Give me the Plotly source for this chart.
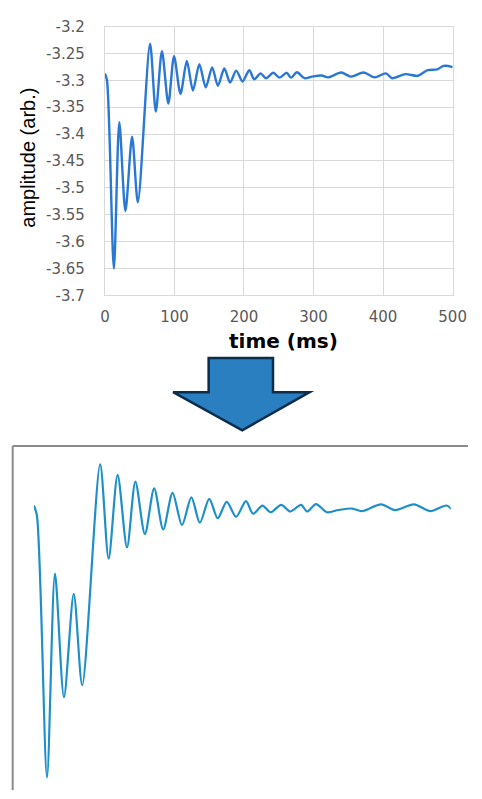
import plotly.graph_objects as go

# Damped oscillation trace: time in ms, amplitude in arbitrary units
time_ms = [0, 3, 12.9, 20.7, 29.5, 39.1, 47.4, 64.9, 73.2, 82.0, 91.2, 99.4,
           108.7, 117.8, 126.6, 135.8, 145.0, 154.2, 162.5, 171.7, 180.0, 188.8,
           198.0, 207.6, 214.6, 223.8, 231.6, 242.2, 251.0, 261.5, 267.5, 276.2,
           286.8, 298, 311.5, 321, 339.8, 353.6, 372, 388, 404, 413, 432, 450,
           464, 478, 487, 498.6, 500]
amplitude = [-3.287, -3.300, -3.650, -3.378, -3.543, -3.405, -3.527, -3.232,
             -3.358, -3.246, -3.343, -3.255, -3.325, -3.264, -3.319, -3.270,
             -3.313, -3.276, -3.310, -3.278, -3.304, -3.282, -3.302, -3.281,
             -3.298, -3.287, -3.296, -3.286, -3.295, -3.286, -3.295, -3.285,
             -3.296, -3.293, -3.291, -3.2945, -3.2855, -3.293, -3.2855, -3.2945,
             -3.287, -3.296, -3.2885, -3.2915, -3.281, -3.2795, -3.273, -3.275,
             -3.276]

x_ticks = [0, 100, 200, 300, 400, 500]
y_ticks = [-3.2, -3.25, -3.3, -3.35, -3.4, -3.45, -3.5, -3.55, -3.6, -3.65, -3.7]
y_tick_text = ["-3.2", "-3.25", "-3.3", "-3.35", "-3.4", "-3.45", "-3.5",
               "-3.55", "-3.6", "-3.65", "-3.7"]

W, H = 482, 799


def px(x):
    return x / W


def py(y):
    return 1 - y / H


fig = go.Figure()

# Upper chart with axes and grid
fig.add_trace(go.Scatter(
    x=time_ms, y=amplitude, mode="lines",
    line=dict(color="#2a78d4", width=2.4, shape="spline", smoothing=0.8),
    xaxis="x", yaxis="y", showlegend=False, hoverinfo="skip"))

# Lower chart: same trace, bare frame, wider zoom
fig.add_trace(go.Scatter(
    x=time_ms, y=amplitude, mode="lines",
    line=dict(color="#1e90c8", width=2.2, shape="spline", smoothing=0.8),
    xaxis="x2", yaxis="y2", showlegend=False, hoverinfo="skip"))

tick_font = dict(family="DejaVu Sans", size=15, color="#595959")
grid = "#d9d9d9"

# Block arrow between the two charts
arrow_pts = [(212, 357), (279, 357), (279, 392), (317, 392), (247, 431),
             (175, 392), (212, 392)]
arrow_path = "M " + " L ".join(f"{px(a):.5f},{py(b):.5f}" for a, b in arrow_pts) + " Z"

fig.update_layout(
    width=W, height=H,
    margin=dict(l=0, r=0, t=0, b=0),
    paper_bgcolor="white", plot_bgcolor="white",
    xaxis=dict(domain=[px(104), px(466)], range=[0, 500], tickvals=x_ticks,
               showgrid=True, gridcolor=grid, gridwidth=1, zeroline=False,
               showline=True, linecolor=grid, linewidth=1, mirror=True,
               ticks="", tickfont=tick_font, ticklabelstandoff=8,
               anchor="y"),
    yaxis=dict(domain=[py(293), py(18)], range=[-3.7, -3.2], tickvals=y_ticks,
               ticktext=y_tick_text, showgrid=True, gridcolor=grid, gridwidth=1,
               zeroline=False, showline=True, linecolor=grid, linewidth=1,
               mirror=True, ticks="", tickfont=tick_font, ticklabelstandoff=16,
               anchor="x"),
    xaxis2=dict(domain=[px(30), px(464)], range=[0, 408], visible=False,
                anchor="y2"),
    yaxis2=dict(domain=[0, py(447)], range=[-3.6669, -3.2074], visible=False,
                anchor="x2"),
    annotations=[
        dict(text="amplitude (arb.)", x=px(23), y=py(152), xref="paper",
             yref="paper", xanchor="center", yanchor="middle",
             showarrow=False, textangle=-90,
             font=dict(family="Liberation Sans", size=20, color="black")),
        dict(text="<b>time (ms)</b>", x=px(290), y=py(340), xref="paper",
             yref="paper", xanchor="center", yanchor="middle",
             showarrow=False,
             font=dict(family="DejaVu Sans", size=20, color="black")),
    ],
    shapes=[
        dict(type="path", path=arrow_path, xref="paper", yref="paper",
             fillcolor="#2a7fc0", line=dict(color="#0d2d4d", width=2.5)),
        dict(type="line", xref="paper", yref="paper", x0=px(8), x1=1,
             y0=py(447), y1=py(447), line=dict(color="#8a8a8a", width=2)),
        dict(type="line", xref="paper", yref="paper", x0=px(8), x1=px(8),
             y0=py(447), y1=0, line=dict(color="#8a8a8a", width=2)),
    ],
)

fig.write_html("out.html")
